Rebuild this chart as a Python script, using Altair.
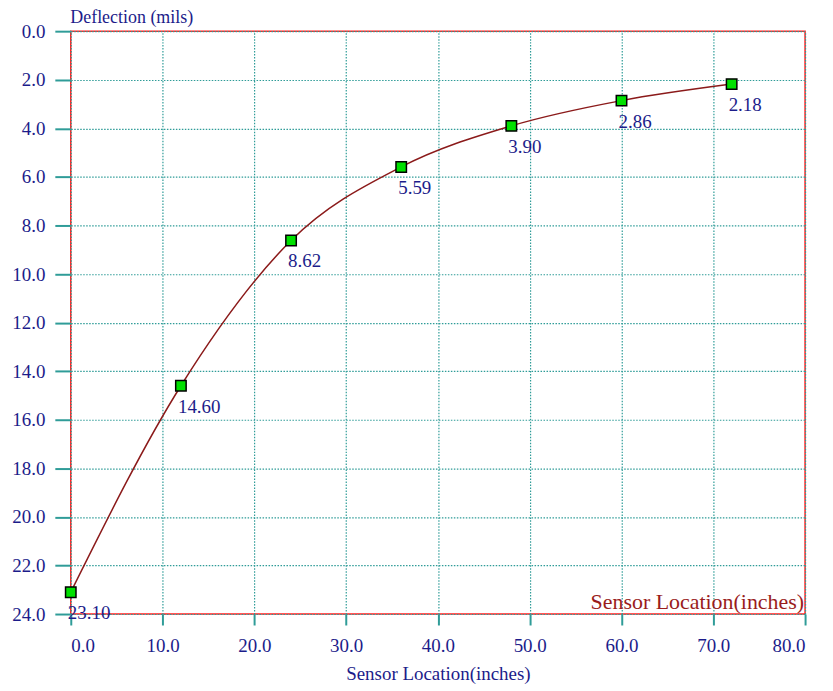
import altair as alt
import pandas as pd

sensor = [0, 12, 24, 36, 48, 60, 72]
deflection = [23.10, 14.60, 8.62, 5.59, 3.90, 2.86, 2.18]
labels = ["23.10", "14.60", "8.62", "5.59", "3.90", "2.86", "2.18"]

df = pd.DataFrame({"x": sensor, "y": deflection, "label": labels})

FONT = "Liberation Serif"
NAVY = "#1c1c8a"
TEAL = "#2f9c98"

xs = alt.X("x:Q", scale=alt.Scale(domain=[0, 80], nice=False),
           axis=alt.Axis(values=list(range(0, 81, 10)), format=".1f",
                         title="Sensor Location(inches)"))
ys = alt.Y("y:Q", scale=alt.Scale(domain=[0, 24], reverse=True, nice=False),
           axis=alt.Axis(values=list(range(0, 25, 2)), format=".1f",
                         title="Deflection (mils)", titleAngle=0, titleX=-1,
                         titleY=-14, titleAlign="left", titleBaseline="middle",
                         titleFontSize=18))

base = alt.Chart(df)
line = base.mark_line(color="#8b1a1a", strokeWidth=1.5, interpolate="monotone").encode(x=xs, y=ys)
pts = base.mark_point(shape="square", size=110, filled=True, fill="#00e000",
                      stroke="black", strokeWidth=1.5, opacity=1).encode(x="x:Q", y="y:Q")
txt = base.mark_text(align="left", baseline="middle", dx=-3, dy=21, font=FONT,
                     fontSize=19, color=NAVY).encode(x="x:Q", y="y:Q", text="label:N")
inner = alt.Chart(pd.DataFrame({"t": ["Sensor Location(inches)"]})).mark_text(
    align="right", baseline="middle", font=FONT, fontSize=22, color="#9a1c1c"
).encode(x=alt.value(736), y=alt.value(573), text="t:N")

chart = alt.layer(line, pts, txt, inner).properties(
    width=737, height=585,
    autosize=alt.AutoSizeParams(type="none"),
    padding={"left": 63, "top": 22, "right": 20, "bottom": 76},
).configure_view(stroke="#ff2020", strokeWidth=1.5).configure_axis(
    grid=True, gridColor=TEAL, gridDash=[1.5, 1.5], gridWidth=1.2, gridOpacity=1,
    domain=False, tickColor=TEAL, tickWidth=2, labelFont=FONT, labelFontSize=19,
    labelColor=NAVY, titleFont=FONT, titleFontSize=19, titleColor=NAVY,
    titleFontWeight="normal",
).configure_axisY(tickSize=16, labelPadding=10).configure_axisX(
    tickSize=11, labelPadding=12, titlePadding=9)

chart.save("out.html", embed_options={"renderer": "svg", "actions": False})
